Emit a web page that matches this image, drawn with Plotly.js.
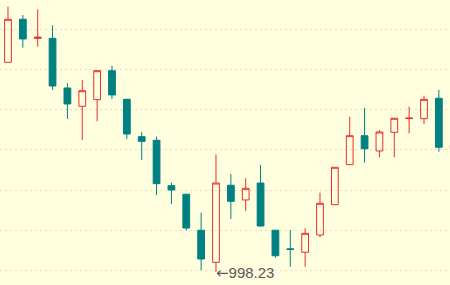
<!DOCTYPE html>
<html>
<head>
<meta charset="utf-8">
<script src="https://cdn.plot.ly/plotly-3.0.1.min.js"></script>
<style>html,body{margin:0;padding:0;background:#ffffe0;}#chart{width:450px;height:285px;}</style>
</head>
<body>
<div id="chart"></div>
<script>
const days = [1,2,3,4,5,6,7,8,9,10,11,12,13,14,15,16,17,18,19,20,21,22,23,24,25,26,27,28,29,30,31];
const openPrices  = [1259.2,1312.7,1288.9,1289.0,1227.2,1204.4,1212.6,1248.7,1213.1,1166.6,1162.1,1105.6,1094.9,1050.1,1010.2,1106.1,1087.8,1108.9,1050.1,1027.0,1022.7,1044.2,1081.9,1131.7,1167.8,1148.8,1172.0,1189.1,1189.0,1214.4,1150.9];
const highPrices  = [1328.4,1318.0,1325.1,1305.2,1233.0,1237.1,1249.2,1254.9,1213.6,1172.4,1166.6,1109.3,1095.4,1072.0,1144.6,1120.1,1114.8,1131.3,1050.5,1050.4,1052.5,1096.9,1128.9,1191.4,1202.3,1174.9,1189.9,1203.9,1217.6,1224.7,1160.0];
const lowPrices   = [1258.8,1277.3,1278.6,1224.7,1188.6,1162.4,1185.7,1213.5,1163.7,1137.6,1094.0,1082.8,1050.1,1000.6,998.23,1064.1,1074.1,1054.5,1015.9,1004.7,1004.7,1041.3,1081.5,1131.3,1134.2,1140.9,1140.9,1170.8,1182.4,1147.9,1140.0];
const closePrices = [1312.7,1288.2,1290.5,1229.7,1207.3,1223.8,1248.7,1218.5,1169.9,1160.8,1108.1,1100.2,1052.9,1014.3,1108.9,1086.1,1102.3,1055.4,1018.4,1026.2,1046.3,1083.7,1128.5,1167.8,1151.6,1172.4,1189.5,1189.7,1213.1,1153.4,1156.2];
const lowLabelDay = 15;
const lowLabelValue = 998.23;

const trace = {
  type: 'candlestick',
  x: days,
  open: openPrices,
  high: highPrices,
  low: lowPrices,
  close: closePrices,
  increasing: {line: {color: '#e8302a', width: 1}, fillcolor: 'rgba(0,0,0,0)'},
  decreasing: {line: {color: '#008080', width: 1}, fillcolor: '#008080'},
  whiskerwidth: 0,
  hoverinfo: 'skip'
};

const layout = {
  width: 450, height: 285,
  margin: {l: 0, r: 0, t: 0, b: 0},
  paper_bgcolor: '#ffffe0',
  plot_bgcolor: '#ffffe0',
  showlegend: false,
  boxgap: 0.35,
  xaxis: {range: [0.463, 30.75], showgrid: false, zeroline: false, showticklabels: false, showline: false, ticks: '', rangeslider: {visible: false}, fixedrange: true},
  yaxis: {range: [981.95, 1336.7], tick0: 0, dtick: 50, showgrid: true, gridcolor: '#f2d5c2', gridwidth: 1, griddash: '2px,3px', zeroline: false, showticklabels: false, showline: false, ticks: '', fixedrange: true},
  annotations: [{
    x: lowLabelDay, y: lowLabelValue, xref: 'x', yref: 'y',
    text: '<span style="font-family:\'DejaVu Sans\'">←</span>' + lowLabelValue.toFixed(2),
    showarrow: false, xanchor: 'left', yanchor: 'middle',
    font: {family: 'Liberation Sans, Arial, sans-serif', size: 15, color: '#595959'},
    borderpad: 0, xshift: -1, yshift: -1
  }]
};

Plotly.newPlot('chart', [trace], layout, {staticPlot: true, displayModeBar: false});
</script>
</body>
</html>
